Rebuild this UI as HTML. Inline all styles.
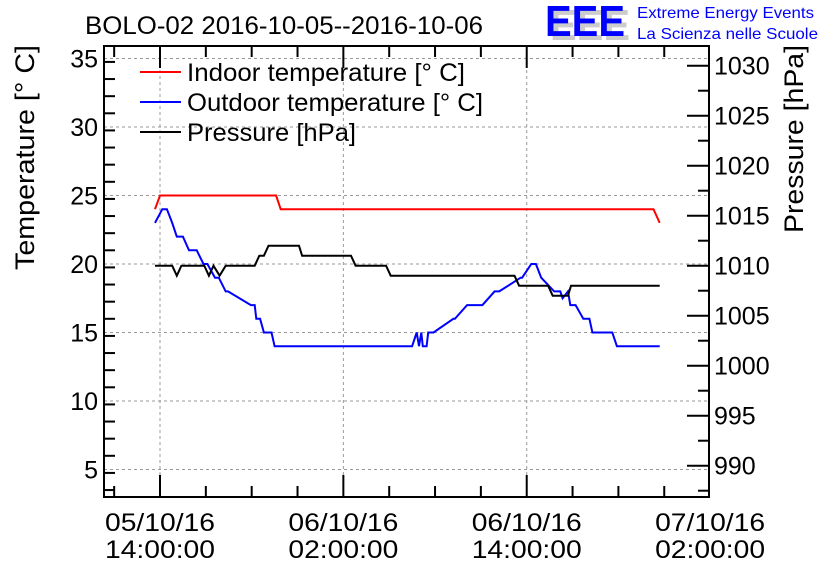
<!DOCTYPE html>
<html><head><meta charset="utf-8"><style>
body{margin:0;background:#fff;}
svg{display:block;font-family:"Liberation Sans",sans-serif;}
</style></head><body>
<svg id="c" width="836" height="572"></svg>
<script>
const redT=[-0.33,0,7.6,7.9,32.3,32.7];
const redV=[24,25,25,24,24,23];
const blueT=[-0.33,0.15,0.45,0.8,1.1,1.5,1.9,2.4,2.85,3.1,3.6,3.85,4.3,4.45,5.95,6.2,6.3,6.55,6.8,7.3,7.5,16.5,16.8,16.95,17.1,17.2,17.45,17.55,17.9,19.2,19.3,20.1,21.1,21.9,22.2,23.6,23.7,24.3,24.6,24.95,25.8,26.2,26.35,26.7,26.85,27.2,27.7,28.1,28.3,29.6,29.9,31.5,31.8,32.7];
const blueV=[23,24,24,23,22,22,21,21,20,20,19,19,18,18,17,17,16,16,15,15,14,14,15,14,15,14,14,15,15,16,16,17,17,18,18,19,19,20,20,19,18,18,17.5,18,17,17,16,16,15,15,14,14,14,14];
const presT=[-0.33,0.8,1.1,1.4,2.9,3.2,3.5,3.9,4.3,6.2,6.5,6.8,7.1,9.1,9.3,12.5,12.8,14.8,15.1,23.2,23.5,25.4,25.7,26.7,26.9,32.7];
const presV=[1010,1010,1009,1010,1010,1009,1010,1009,1010,1010,1011,1011,1012,1012,1011,1011,1010,1010,1009,1009,1008,1008,1007,1007,1008,1008];
const yTicksL=[5,10,15,20,25,30,35];
const yTicksR=[990,995,1000,1005,1010,1015,1020,1025,1030];
const xTickH=[0,12,24,36];
const xTickLab=[["05/10/16","14:00:00"],["06/10/16","02:00:00"],["06/10/16","14:00:00"],["07/10/16","02:00:00"]];
const L=104,R=709,T=46,B=497;
const xs=h=>160+h*15.28;
const yl=v=>264-(v-20)*13.7;
const yr=p=>265.7-(p-1010)*10;
const svg=document.getElementById('c');
const NS='http://www.w3.org/2000/svg';
function mk(tag,at,parent){const e=document.createElementNS(NS,tag);for(const k in at)e.setAttribute(k,at[k]);(parent||svg).appendChild(e);return e;}
for(const v of yTicksL){const g=mk('line',{x1:L,x2:R,y1:yl(v),y2:yl(v),stroke:'#999','stroke-dasharray':'3,3'});

}
for(const h of xTickH){if(xs(h)>R)continue;const g=mk('line',{x1:xs(h),x2:xs(h),y1:T,y2:B,stroke:'#999','stroke-dasharray':'3,3'});

}
const fr=mk('rect',{x:L,y:T,width:R-L,height:B-T,fill:'none',stroke:'#000','stroke-width':2});


for(let v=3.5;v<=35.7;v+=1.25){const y=yl(v);if(y<T||y>B)continue;const major=Math.abs(v/5-Math.round(v/5))<0.01;mk('line',{x1:L,x2:L+(major?22:11),y1:y,y2:y,stroke:'#000','stroke-width':2});}
for(const v of yTicksL){const t=mk('text',{x:L-6,y:yl(v)+9,'text-anchor':'end','font-size':25});t.textContent=v;

}
for(let p=987.5;p<=1033;p+=2.5){const y=yr(p);if(y<T||y>B)continue;const major=p%5===0;mk('line',{x1:R,x2:R-(major?22:11),y1:y,y2:y,stroke:'#000','stroke-width':2});}
for(const p of yTicksR){const t=mk('text',{x:R+5,y:yr(p)+9,'font-size':25});t.textContent=p;

}
for(let h=-3;h<=36;h+=3){const x=xs(h);if(x<L||x>R)continue;const major=h%12===0;const len=major?22:11;mk('line',{x1:x,x2:x,y1:B,y2:B-len,stroke:'#000','stroke-width':2});mk('line',{x1:x,x2:x,y1:T,y2:T+len,stroke:'#000','stroke-width':2});}
xTickH.forEach((h,i)=>{const t=mk('text',{x:xs(h)-55,y:531,'font-size':25,textLength:110,lengthAdjust:'spacingAndGlyphs'});t.textContent=xTickLab[i][0];


const t2=mk('text',{x:xs(h)-55,y:558,'font-size':25,textLength:110,lengthAdjust:'spacingAndGlyphs'});t2.textContent=xTickLab[i][1];

});
function line(T_,V,fy,col,name){const p=T_.map((t,i)=>xs(t).toFixed(1)+','+fy(V[i]).toFixed(1)).join(' ');const e=mk('polyline',{points:p,fill:'none',stroke:col,'stroke-width':2});

}
line(redT,redV,yl,'#f00','indoor-temperature-line');
line(blueT,blueV,yl,'#00f','outdoor-temperature-line');
line(presT,presV,yr,'#000','pressure-line');
const leg=[['#f00','Indoor temperature [° C]',278],['#00f','Outdoor temperature [° C]',296],['#000','Pressure [hPa]',169]];
leg.forEach((l,i)=>{const y=72+i*30;mk('line',{x1:140,x2:181,y1:y,y2:y,stroke:l[0],'stroke-width':2});const t=mk('text',{x:187,y:y+9,'font-size':25,textLength:l[2],lengthAdjust:'spacingAndGlyphs'});t.textContent=l[1];

});
let t=mk('text',{x:85,y:34,'font-size':25,textLength:398,lengthAdjust:'spacingAndGlyphs'});t.textContent='BOLO-02 2016-10-05--2016-10-06';


t=mk('text',{transform:'translate(34,270) rotate(-90)','font-size':27,textLength:225,lengthAdjust:'spacingAndGlyphs'});t.textContent='Temperature [° C]';


t=mk('text',{transform:'translate(803,233) rotate(-90)','font-size':27,textLength:188,lengthAdjust:'spacingAndGlyphs'});t.textContent='Pressure [hPa]';


t=mk('text',{x:550,y:40,'font-size':44,fill:'#ccc','font-weight':'bold',textLength:80,lengthAdjust:'spacingAndGlyphs'});t.textContent='EEE';
t=mk('text',{x:545,y:36,'font-size':44,fill:'#00f','font-weight':'bold',textLength:80,lengthAdjust:'spacingAndGlyphs'});t.textContent='EEE';


t=mk('text',{x:637,y:18,'font-size':16,fill:'#00f',textLength:177,lengthAdjust:'spacingAndGlyphs'});t.textContent='Extreme Energy Events';


t=mk('text',{x:637,y:39,'font-size':16,fill:'#00f',textLength:181,lengthAdjust:'spacingAndGlyphs'});t.textContent='La Scienza nelle Scuole';


</script>
</body></html>
